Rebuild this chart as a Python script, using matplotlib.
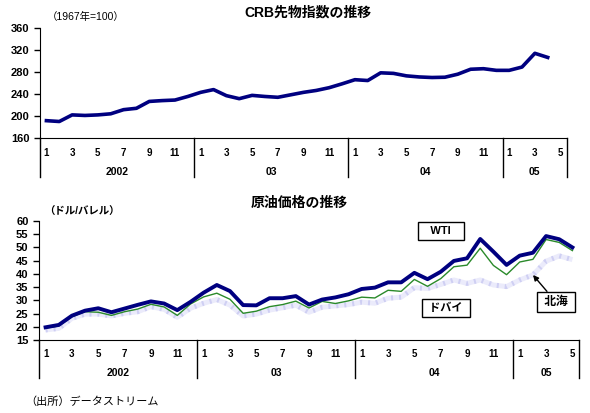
import matplotlib
matplotlib.use("Agg")
import matplotlib.pyplot as plt

plt.rcParams['font.family'] = ['Liberation Sans', 'Noto Sans CJK JP', 'DejaVu Sans']

# months Jan 2002 .. May 2005
month_labels = ["1", "", "3", "", "5", "", "7", "", "9", "", "11", ""] * 3 + ["1", "", "3", "", "5"]
year_labels = ["2002", "03", "04", "05"]
year_bounds = [0, 12, 24, 36, 41]

# CRB futures index, Jan 2002 .. Apr 2005
crb = [191.5, 190, 202, 201, 202, 204, 211.5, 214, 226.5, 228, 229, 235.5,
       243, 248, 237, 231.5, 237.5, 235.5, 234, 238.5, 243, 246.5, 251.5, 258.5,
       266, 264.5, 278.5, 277.5, 273, 271, 270, 270.5, 276, 285, 286, 283,
       283, 289, 314, 306.5]

# crude oil prices (USD/bbl), Jan 2002 .. May 2005
wti = [19.8, 20.7, 24.2, 26.1, 27.0, 25.5, 26.9, 28.3, 29.6, 28.8, 26.3, 29.4,
       32.9, 35.8, 33.5, 28.2, 28.1, 30.8, 30.8, 31.6, 28.4, 30.3, 31.1, 32.3,
       34.3, 34.8, 36.8, 36.8, 40.4, 38.0, 40.8, 44.9, 45.9, 53.2, 48.4, 43.4,
       46.9, 48.0, 54.3, 53.1, 50.0]
green = [19.5, 20.3, 23.8, 25.7, 25.5, 24.3, 25.7, 26.7, 28.5, 27.5, 24.3, 28.6,
         31.3, 32.7, 30.4, 25.1, 25.9, 27.6, 28.4, 29.7, 27.1, 29.6, 28.8, 29.8,
         31.2, 30.9, 33.8, 33.4, 37.9, 35.3, 38.2, 42.7, 43.3, 49.7, 43.2, 39.7,
         44.5, 45.5, 53.0, 51.9, 48.8]
lavender = [18.8, 19.4, 23.2, 24.8, 24.8, 24.1, 25.1, 25.7, 27.6, 26.6, 23.6, 27.0,
            28.9, 30.3, 28.2, 24.1, 24.8, 26.3, 27.2, 28.2, 25.5, 27.4, 27.9, 28.4,
            29.3, 28.9, 30.8, 31.2, 34.8, 34.5, 36.0, 37.7, 36.4, 37.7, 35.8, 35.2,
            37.7, 39.6, 44.8, 46.8, 45.4]

NAVY = "#000080"
fig = plt.figure(figsize=(5.9, 4.13), dpi=100)


def category_axis(ax, month_y, year_y, sep_y):
    n = len(month_labels)
    ax.set_xlim(0, n)
    ax.set_xticks([])
    tr = ax.get_xaxis_transform()
    for i, lab in enumerate(month_labels):
        if lab:
            ax.text(i + 0.5, month_y, lab, transform=tr, ha="center", va="center",
                    fontsize=7, fontweight="bold")
    for k, lab in enumerate(year_labels):
        mid = (year_bounds[k] + year_bounds[k + 1]) / 2
        ax.text(mid, year_y, lab, transform=tr, ha="center", va="center",
                fontsize=7.5, fontweight="bold")
    for b in year_bounds:
        ax.plot([b, b], [0, sep_y], transform=tr, color="black", lw=1.0, clip_on=False)
    for s in ["top", "right"]:
        ax.spines[s].set_visible(False)
    ax.tick_params(axis="y", direction="out", length=4, width=1, labelsize=8)
    for t in ax.get_yticklabels():
        t.set_fontweight("bold")


# top chart
ax1 = fig.add_axes([40 / 590, 1 - 138 / 413, 527 / 590, 110 / 413])
ax1.plot([i + 0.5 for i in range(len(crb))], crb, color=NAVY, lw=2.6)
ax1.set_ylim(160, 360)
ax1.set_yticks(range(160, 361, 40))
category_axis(ax1, -0.136, -0.31, -0.355)
fig.text(308 / 590, 1 - 12 / 413, "CRB先物指数の推移", ha="center", va="center",
         fontsize=10, fontweight="bold")
fig.text(47 / 590, 1 - 17 / 413, "（1967年=100）", ha="left", va="center", fontsize=7.5)

# bottom chart
ax2 = fig.add_axes([39 / 590, 1 - 340 / 413, 540 / 590, 119 / 413])
x2 = [i + 0.5 for i in range(len(wti))]
ax2.plot(x2, lavender, color="#ebebfb", lw=3.6, solid_capstyle="butt")
ax2.plot(x2, lavender, color="#cfcff3", lw=3.6, dashes=(0.4, 1.2))
ax2.plot(x2, green, color="#2a8a2a", lw=1.0)
ax2.plot(x2, wti, color=NAVY, lw=2.8)
ax2.set_ylim(15, 60)
ax2.set_yticks(range(15, 61, 5))
category_axis(ax2, -0.118, -0.275, -0.32)
fig.text(299 / 590, 1 - 203 / 413, "原油価格の推移", ha="center", va="center",
         fontsize=10, fontweight="bold")
fig.text(44 / 590, 1 - 212 / 413, "（ドル/バレル）", ha="left", va="center",
         fontsize=7.5, fontweight="bold")

box = dict(boxstyle="square,pad=0.35", fc="white", ec="black", lw=1.0)
ax2.text(441 / 590, 1 - 231 / 413, "   WTI   ", transform=fig.transFigure, ha="center",
         va="center", fontsize=8, fontweight="bold", bbox=box)
ax2.text(446 / 590, 1 - 308 / 413, " ドバイ ", transform=fig.transFigure, ha="center",
         va="center", fontsize=8, fontweight="bold", bbox=box)
ax2.annotate(" 北海 ", xy=(533 / 590, 1 - 275 / 413), xycoords="figure fraction",
             xytext=(556 / 590, 1 - 302 / 413), textcoords="figure fraction",
             ha="center", va="center", fontsize=8.5, fontweight="bold", bbox=box,
             arrowprops=dict(arrowstyle="-|>", color="black", lw=1.0,
                             mutation_scale=8, shrinkA=0, shrinkB=0))

fig.text(25 / 590, 1 - 402 / 413, "（出所）データストリーム", ha="left", va="center",
         fontsize=8)

fig.savefig("out.png", dpi=100)
